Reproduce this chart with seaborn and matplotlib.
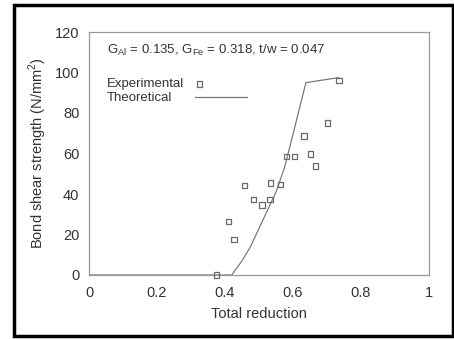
import matplotlib
matplotlib.use("Agg")
import matplotlib.pyplot as plt
from matplotlib.patches import Rectangle
from matplotlib.ticker import MultipleLocator
from matplotlib.legend_handler import HandlerPathCollection
import seaborn as sns
import pandas as pd

# Experimental bond shear strength vs total reduction
exp_x = [0.375, 0.41, 0.426, 0.457, 0.483, 0.509, 0.532, 0.534, 0.564,
         0.581, 0.604, 0.632, 0.652, 0.667, 0.701, 0.735]
exp_y = [0.0, 26.3, 17.6, 44.1, 37.3, 34.5, 37.3, 45.5, 44.7,
         58.4, 58.4, 68.7, 59.7, 53.9, 75.0, 96.0]

# Theoretical prediction
theo_x = [0.0, 0.42, 0.45, 0.475, 0.50, 0.525, 0.55, 0.575, 0.60, 0.62, 0.638, 0.735]
theo_y = [0.0, 0.0, 7.0, 14.0, 23.0, 32.0, 41.0, 53.0, 69.5, 83.0, 95.0, 97.5]

x_ticks = [0, 0.2, 0.4, 0.6, 0.8, 1]
x_tick_labels = ["0", "0.2", "0.4", "0.6", "0.8", "1"]
y_ticks = [0, 20, 40, 60, 80, 100, 120]
series_names = ["Experimental", "Theoretical"]

exp_df = pd.DataFrame({"reduction": exp_x, "strength": exp_y})
theo_df = pd.DataFrame({"reduction": theo_x, "strength": theo_y})

sns.set_style("white")
plt.rcParams["font.family"] = ["Liberation Sans", "DejaVu Sans"]
plt.rcParams["mathtext.fontset"] = "custom"
plt.rcParams["mathtext.rm"] = "Liberation Sans"

txt = "#333333"
gray = "#8a8a8a"


class LeftMarkerHandler(HandlerPathCollection):
    """Put the legend marker near the left end of the handle box."""
    def get_xdata(self, legend, xdescent, ydescent, width, height, fontsize):
        x = [-xdescent + 0.08 * width]
        return x, x


fig = plt.figure(figsize=(4.54, 3.40), dpi=100)
ax = fig.add_axes([89 / 454, 1 - 275 / 340, 340 / 454, 243 / 340])

sns.lineplot(data=theo_df, x="reduction", y="strength", ax=ax, color="#7a7a7a",
             lw=0.9, sort=False, estimator=None, zorder=3)
sns.scatterplot(data=exp_df, x="reduction", y="strength", ax=ax, marker="s",
                s=15, facecolor="none", edgecolor="#6a6a6a", linewidth=0.9,
                zorder=4, clip_on=False)
line_handle = ax.lines[0]
scatter_handle = ax.collections[0]

ax.set_xlim(0, 1)
ax.set_ylim(0, 120)
ax.set_xticks(x_ticks)
ax.set_xticklabels(x_tick_labels)
ax.set_yticks(y_ticks)
ax.xaxis.set_minor_locator(MultipleLocator(0.1))
ax.yaxis.set_minor_locator(MultipleLocator(10))
ax.tick_params(axis="both", which="both", direction="out", color=gray,
               labelcolor=txt, labelsize=10.5, width=0.8)
ax.tick_params(axis="both", which="major", length=4)
ax.tick_params(axis="both", which="minor", length=3)
ax.tick_params(axis="x", pad=4)
ax.tick_params(axis="y", pad=3)

for sp in ax.spines.values():
    sp.set_color("#9a9a9a")
    sp.set_linewidth(0.9)

ax.set_xlabel("Total reduction", fontsize=10.5, color=txt, labelpad=5)
ax.set_ylabel("Bond shear strength (N/mm$^2$)", fontsize=10.5, color=txt, labelpad=4)

ax.text(0.053, 111, r"G$_{\rm Al}$ = 0.135, G$_{\rm Fe}$ = 0.318, t/w = 0.047",
        fontsize=9.5, color=txt, va="center", ha="left")

# legend: labels left-aligned in one column, handles in a column to their right
for name, yy in zip(series_names, [0.785, 0.730]):
    ax.text(0.053, yy, name, transform=ax.transAxes, fontsize=9.5,
            color=txt, va="center", ha="left")
leg = ax.legend([scatter_handle, line_handle], [" ", " "],
                loc="upper left", bbox_to_anchor=(0.312, 0.809), frameon=False,
                handlelength=3.94, handletextpad=0, labelspacing=0.1,
                fontsize=9.5, borderpad=0, borderaxespad=0,
                handler_map={scatter_handle: LeftMarkerHandler()})

# black border around the whole figure
fig.patches.append(Rectangle((13.5 / 454, 4 / 340), 439 / 454, 331 / 340,
                             transform=fig.transFigure, fill=False,
                             edgecolor="black", linewidth=2.5))

fig.savefig("out.png", dpi=100, facecolor="white")
